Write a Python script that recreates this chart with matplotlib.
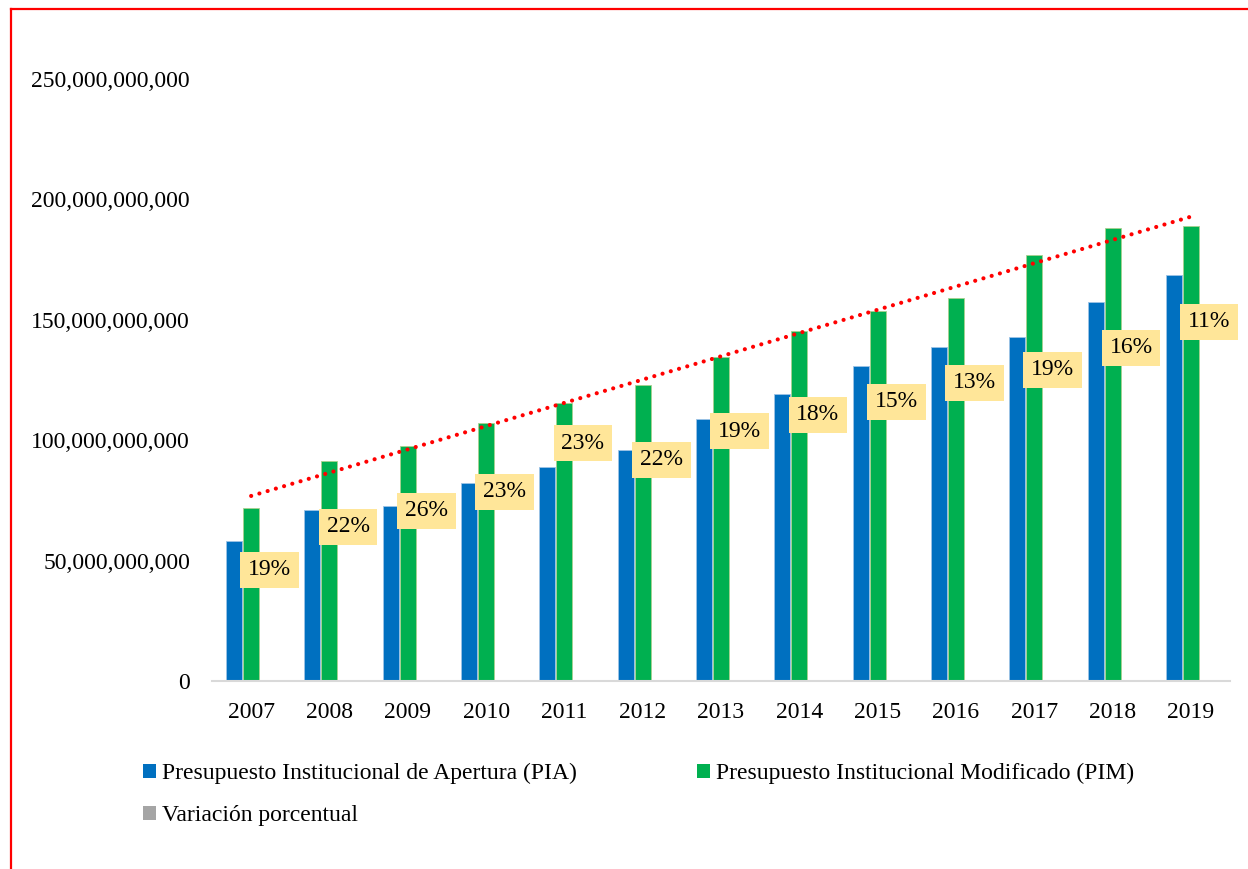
import matplotlib
matplotlib.use("Agg")
import matplotlib.pyplot as plt
import numpy as np
from matplotlib.patches import Patch
from matplotlib.lines import Line2D
from matplotlib.ticker import FuncFormatter

# ---- data ----
years = ["2007", "2008", "2009", "2010", "2011", "2012", "2013",
         "2014", "2015", "2016", "2017", "2018", "2019"]
pia = [58.1, 71.0, 72.7, 82.2, 88.9, 95.9, 108.8, 119.2, 130.8, 138.7, 142.9, 157.4, 168.6]  # billions
pim = [71.8, 91.4, 97.6, 107.1, 115.4, 122.9, 134.6, 145.3, 153.7, 159.1, 176.9, 188.1, 189.0]  # billions
variacion = [19, 22, 26, 23, 23, 22, 19, 18, 15, 13, 19, 16, 11]  # percent
series_names = ["Presupuesto Institucional de Apertura (PIA)",
                "Presupuesto Institucional Modificado (PIM)",
                "Variación porcentual"]

# ---- layout (label placement, in axis units) ----
label_y = [46.1, 64.0, 70.6, 78.5, 98.8, 91.8, 103.8, 110.5, 115.9, 123.8, 129.2, 138.3, 149.1]

BLUE = "#0070C0"
GREEN = "#00B050"
GRAY = "#A5A5A5"
FONT = "Liberation Serif"
FS = 17

plt.rcParams["font.family"] = [FONT, "DejaVu Serif"]

fig = plt.figure(figsize=(12.48, 8.69), dpi=100)
ax = fig.add_axes([212/1248, 1-681/869, (1230-212)/1248, (681-79)/869])

B = 1e9
x = np.arange(len(years))
w = 0.205
off = 0.217
ax.bar(x - off, np.array(pia)*B, width=w, color=BLUE, edgecolor="#9DC3E6", linewidth=0.6)
ax.bar(x, np.array(pim)*B, width=w, color=GREEN, edgecolor="#A9D18E", linewidth=0.6)
ax.bar(x + off, np.array(variacion)/100.0, width=w, color=GRAY)

# linear trendline of PIM
coef = np.polyfit(x, np.array(pim)*B, 1)
xt = np.array([x[0], x[-1]])
ax.plot(xt, np.polyval(coef, xt), color="#FF0000", linewidth=3.0,
        linestyle=(0, (0.01, 2.05)), dash_capstyle="round", zorder=4)

# data labels of the variation series
for xi, v, ly in zip(x, variacion, label_y):
    ax.text(xi + off + 0.02, ly*B, f"{v}%", ha="center", va="center", fontsize=FS,
            color="black", zorder=5,
            bbox=dict(boxstyle="square,pad=0.33", facecolor="#FFE699", edgecolor="none"))

ax.set_xlim(-0.5, len(years) - 0.5)
ax.set_ylim(0, 250*B)
ax.set_yticks(np.arange(0, 251, 50)*B)
ax.yaxis.set_major_formatter(FuncFormatter(lambda v, p: f"{v:,.0f}"))
ax.set_xticks(x)
ax.set_xticklabels(years)
ax.tick_params(axis="y", length=0, pad=15.8, labelsize=FS)
ax.tick_params(axis="x", length=0, pad=15, labelsize=FS)
for s in ["top", "right", "left"]:
    ax.spines[s].set_visible(False)
ax.spines["bottom"].set_color("#D9D9D9")
ax.spines["bottom"].set_linewidth(1.5)

handles = [Patch(facecolor=BLUE, edgecolor="none"),
           Patch(facecolor=GRAY, edgecolor="none"),
           Patch(facecolor=GREEN, edgecolor="none")]
labels = [series_names[0], series_names[2], series_names[1]]
fig.legend(handles, labels, loc="upper left", bbox_to_anchor=(143/1248, 1-763/869),
           ncol=2, frameon=False, fontsize=FS, handlelength=0.55, handleheight=0.55,
           handletextpad=0.25, columnspacing=5.1, labelspacing=0.88, borderaxespad=0,
           borderpad=0)

# red frame lines
fig.add_artist(Line2D([10.5/1248, 10.5/1248], [0, 1-9/869], color="#FF0000", linewidth=1.6,
                      transform=fig.transFigure))
fig.add_artist(Line2D([10.5/1248, 1], [1-9/869, 1-9/869], color="#FF0000", linewidth=1.6,
                      transform=fig.transFigure))

fig.savefig("out.png", dpi=100)
